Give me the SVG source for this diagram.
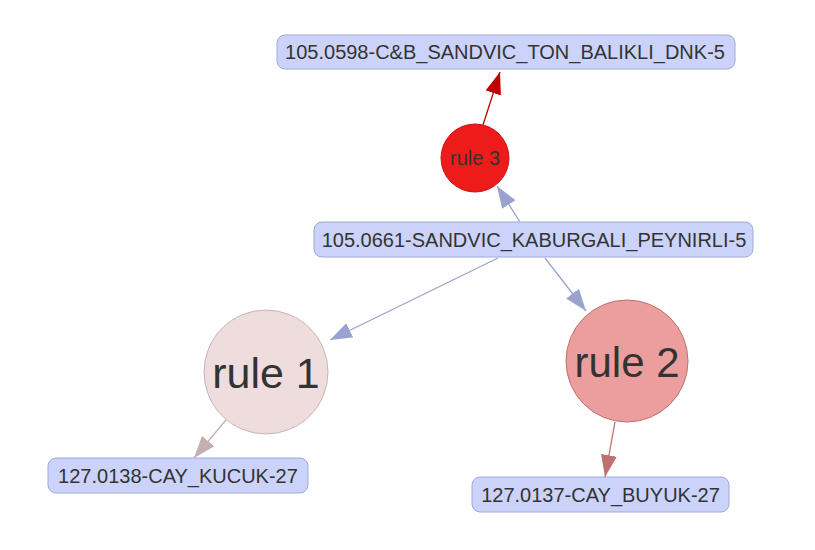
<svg xmlns="http://www.w3.org/2000/svg" width="815" height="550" viewBox="0 0 815 550">
<style>
.box{fill:#ccd3fa;stroke:#a0a8d8;stroke-width:1}
.lbl{font-family:"Liberation Sans",Arial,sans-serif;fill:#333333}
.edge{fill:none;stroke-width:1.3}
</style>
<defs>
<marker id="mBlue" markerUnits="userSpaceOnUse" markerWidth="24" markerHeight="18" refX="22" refY="8" orient="auto"><path d="M0,0 L22,8 L0,16 z" fill="#9aa3cf"/></marker>
<marker id="mRed" markerUnits="userSpaceOnUse" markerWidth="24" markerHeight="18" refX="22" refY="8" orient="auto"><path d="M0,0 L22,8 L0,16 z" fill="#c00000"/></marker>
<marker id="mPink" markerUnits="userSpaceOnUse" markerWidth="24" markerHeight="18" refX="22" refY="8" orient="auto"><path d="M0,0 L22,8 L0,16 z" fill="#c4b0b0"/></marker>
<marker id="mRose" markerUnits="userSpaceOnUse" markerWidth="24" markerHeight="18" refX="22" refY="8" orient="auto"><path d="M0,0 L22,8 L0,16 z" fill="#c07070"/></marker>
</defs>
<rect width="815" height="550" fill="#ffffff"/>
<g id="edges">
<line class="edge" x1="520" y1="222" x2="497" y2="186" stroke="#9aa3cf" marker-end="url(#mBlue)"/>
<line class="edge" x1="483" y1="125" x2="500" y2="72" stroke="#c00000" marker-end="url(#mRed)"/>
<line class="edge" x1="498" y1="258" x2="330" y2="340" stroke="#9aa3cf" marker-end="url(#mBlue)"/>
<line class="edge" x1="545" y1="258" x2="586" y2="311" stroke="#9aa3cf" marker-end="url(#mBlue)"/>
<line class="edge" x1="226" y1="420" x2="194" y2="458" stroke="#c4b0b0" marker-end="url(#mPink)"/>
<line class="edge" x1="615" y1="422" x2="605" y2="477" stroke="#c07070" marker-end="url(#mRose)"/>
</g>
<g id="n_top">
<rect class="box" x="277" y="35" width="458" height="34" rx="8"/>
<text class="lbl" x="505" y="59" font-size="20" text-anchor="middle">105.0598-C&amp;B_SANDVIC_TON_BALIKLI_DNK-5</text>
</g>
<g id="n_mid">
<rect class="box" x="314" y="222" width="439" height="35" rx="8"/>
<text class="lbl" x="534" y="247" font-size="20" text-anchor="middle">105.0661-SANDVIC_KABURGALI_PEYNIRLI-5</text>
</g>
<g id="n_rule3">
<circle cx="475" cy="158" r="34" fill="#ee1b1b" stroke="#c81414" stroke-width="1"/>
<text class="lbl" x="475" y="165" font-size="20" text-anchor="middle">rule 3</text>
</g>
<g id="n_rule1">
<circle cx="266" cy="372" r="62" fill="#efdddd" stroke="#c8b4b4" stroke-width="1"/>
<text class="lbl" x="266" y="388" font-size="43" text-anchor="middle">rule 1</text>
</g>
<g id="n_rule2">
<circle cx="627" cy="361" r="61" fill="#ec9e9e" stroke="#c07070" stroke-width="1"/>
<text class="lbl" x="627" y="377" font-size="42" text-anchor="middle">rule 2</text>
</g>
<g id="n_bl">
<rect class="box" x="48" y="458" width="260" height="35" rx="8"/>
<text class="lbl" x="178" y="483" font-size="20" text-anchor="middle">127.0138-CAY_KUCUK-27</text>
</g>
<g id="n_br">
<rect class="box" x="472" y="477" width="257" height="35" rx="8"/>
<text class="lbl" x="600.5" y="502" font-size="20" text-anchor="middle">127.0137-CAY_BUYUK-27</text>
</g>
</svg>
